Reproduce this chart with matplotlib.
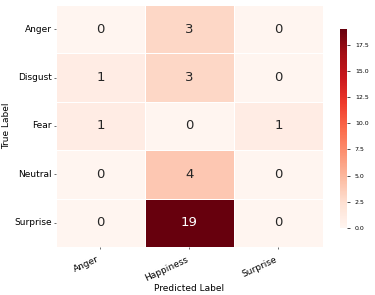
import matplotlib
matplotlib.use("Agg")
import matplotlib.pyplot as plt
import seaborn as sns
import numpy as np

true_labels = ["Anger", "Disgust", "Fear", "Neutral", "Surprise"]
pred_labels = ["Anger", "Happiness", "Surprise"]
counts = np.array([
    [0, 3, 0],
    [1, 3, 0],
    [1, 0, 1],
    [0, 4, 0],
    [0, 19, 0],
])

fig = plt.figure(figsize=(3.75, 2.95), dpi=100)
ax = fig.add_axes([0.149, 0.163, 0.712, 0.820])
cax = fig.add_axes([0.906, 0.227, 0.020, 0.675])
sns.heatmap(counts, annot=True, fmt="d", cmap="Reds", linewidths=0.4, linecolor="white",
            xticklabels=pred_labels, yticklabels=true_labels, ax=ax, cbar_ax=cax,
            annot_kws={"fontsize": 9.5})
ax.set_xlabel("Predicted Label", fontsize=6.5, labelpad=1)
ax.set_ylabel("True Label", fontsize=6.5, labelpad=2)
ax.tick_params(axis="both", labelsize=6.5, length=1.5, width=0.6, pad=1.5, color="#555555")
ax.tick_params(axis="x", pad=4)
plt.setp(ax.get_xticklabels(), rotation=25, ha="right")
plt.setp(ax.get_yticklabels(), rotation=0)
cax.tick_params(labelsize=4.5, length=2, width=0.5)
cax.set_yticks([0, 2.5, 5, 7.5, 10, 12.5, 15, 17.5])
cax.set_yticklabels(["0.0", "2.5", "5.0", "7.5", "10.0", "12.5", "15.0", "17.5"])
for s in cax.spines.values():
    s.set_visible(False)
fig.savefig("out.png", dpi=100)
